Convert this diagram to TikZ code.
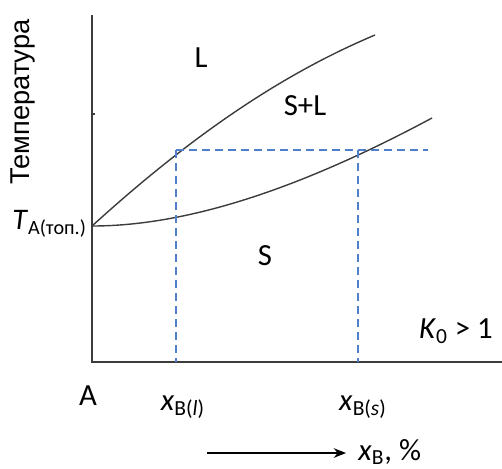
\documentclass[tikz,border=0pt]{standalone}
\usepackage{fontspec}
\setmainfont{Carlito}
\newfontfamily\axisfont{Liberation Sans}
\usetikzlibrary{arrows.meta}
\definecolor{dashblue}{RGB}{80,128,204}
\definecolor{curvegray}{RGB}{60,60,60}
\tikzset{
  axisline/.style={line width=1.1pt, draw=curvegray},
  phaseline/.style={line width=0.8pt, draw=curvegray},
  guideline/.style={line width=0.85pt, draw=dashblue, dash pattern=on 4.4pt off 3pt},
  lbl/.style={font=\fontsize{17.5}{20}\selectfont, inner sep=0pt}
}
\begin{document}
\begin{tikzpicture}[x=0.02cm, y=-0.02cm]
  \useasboundingbox (0,0) rectangle (502,468);
  % axes
  \coordinate (top) at (92,15);
  \coordinate (O) at (92,362);
  \coordinate (right) at (502,362);
  \coordinate (TA) at (92,226);
  \draw[axisline] (top) -- (O) -- (right);
  \draw[line width=0.6pt, draw=curvegray] (92,114) -- (95,114);
  % liquidus and solidus
  \coordinate (liqE) at (375,35);
  \coordinate (solE) at (432,118);
  \coordinate (pl) at (176,150);
  \coordinate (ps) at (362,150);
  \draw[phaseline] (TA) .. controls (190,137) and (280,75) .. (liqE);
  \draw[phaseline] (TA) .. controls (200,226) and (320,178) .. (solE);
  % tie line
  \coordinate (tieE) at (428,150);
  \coordinate (bl) at (176,362);
  \coordinate (bs) at (358,362);
  \draw[guideline] (pl) -- (tieE);
  \draw[guideline] (pl) -- (bl);
  \draw[guideline] (358,150) -- (bs);
  % labels
  \node[lbl, rotate=90, font=\axisfont\fontsize{15.5}{17}\selectfont] (temp) at (23,102) {Температура};
  \node[lbl, anchor=west, font=\fontsize{17}{20}\selectfont] (tlab) at (12,224) {\textit{T}\textsubscript{\fontsize{11.5}{14}\selectfont A(топ.)}};
  \node[lbl] (regL) at (201,58) {L};
  \node[lbl] (regSL) at (305,106) {S+L};
  \node[lbl] (regS) at (265,256) {S};
  \node[lbl] (kz) at (456,331) {\textit{K}\textsubscript{0} > 1};
  \node[lbl] (lA) at (88,396) {A};
  \node[lbl] (xl) at (183,407) {\textit{x}\textsubscript{B(\textit{l})}};
  \node[lbl] (xs) at (363,407) {\textit{x}\textsubscript{B(\textit{s})}};
  \coordinate (arS) at (207,453);
  \coordinate (arE) at (346,453);
  \draw[line width=0.8pt, -{Stealth[length=7pt,width=5.5pt]}] (arS) -- (arE);
  \node[lbl, anchor=west] (xpct) at (358,452) {\textit{x}\textsubscript{B}, \%};
\end{tikzpicture}
\end{document}
